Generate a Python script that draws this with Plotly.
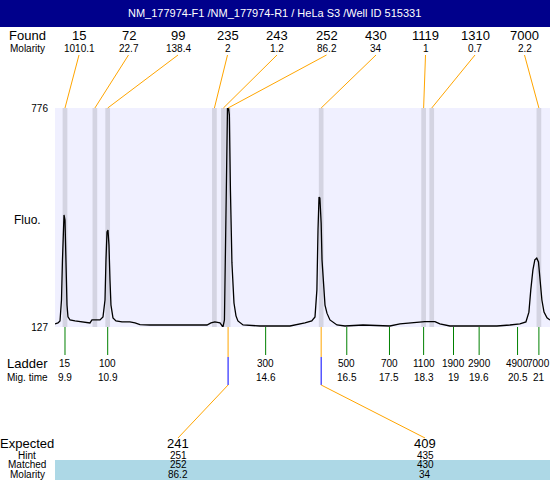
import plotly.graph_objects as go

title = "NM_177974-F1 /NM_177974-R1 / HeLa S3 /Well ID 515331"

# Electropherogram (migration time, fluorescence)
mig_time = [9.666, 9.736, 9.783, 9.818, 9.841, 9.865, 9.877, 9.9, 9.923, 9.947, 9.97, 10.017,
            10.134, 10.368, 10.485, 10.532, 10.72, 10.79, 10.837, 10.86, 10.884, 10.907, 10.93,
            10.954, 10.977, 11.024, 11.094, 11.235, 11.42, 11.54, 11.656, 11.89, 12.59, 13.226,
            13.32, 13.41, 13.53, 13.577, 13.60, 13.635, 13.66, 13.682, 13.706, 13.73, 13.75,
            13.775, 13.81, 13.858, 13.905, 13.95, 14.07, 14.467, 15.17, 15.52, 15.68, 15.756,
            15.80, 15.826, 15.85, 15.87, 15.90, 15.92, 15.955, 15.99, 16.036, 16.106, 16.27,
            16.458, 16.88, 17.277, 17.51, 17.746, 18.05, 18.213, 18.33, 18.565, 18.68, 18.916,
            20.017, 20.32, 20.556, 20.696, 20.766, 20.81, 20.86, 20.905, 20.95, 20.99, 21.02,
            21.07, 21.12, 21.19, 21.26]
fluo = [136, 139, 145, 207, 326, 438, 459, 444, 296, 192, 157, 148,
        145, 142, 139, 148, 148, 157, 207, 326, 409, 414, 370,
        266, 192, 154, 145, 142, 142, 139, 134, 133, 133, 133,
        139, 142, 139, 128, 127, 148, 355, 652, 776, 776, 755,
        533, 317, 198, 160, 145, 133, 130, 130, 139, 145, 157,
        237, 414, 512, 509, 435, 326, 237, 192, 168, 148, 133,
        130, 133, 130, 130, 136, 139, 142, 143, 143, 136, 130,
        130, 133, 136, 142, 171, 237, 296, 326, 331, 320, 275,
        207, 171, 154, 148]

found_size = ["15", "72", "99", "235", "243", "252", "430", "1119", "1310", "7000"]
found_molarity = ["1010.1", "22.7", "138.4", "2", "1.2", "86.2", "34", "1", "0.7", "2.2"]
found_time = [9.9, 10.6, 10.9, 13.4, 13.61, 13.72, 15.9, 18.3, 18.49, 21.0]

ladder_size = ["15", "100", "300", "500", "700", "1100", "1900", "2900", "4900", "7000"]
ladder_time = [9.9, 10.9, 14.6, 16.5, 17.5, 18.3, 19, 19.6, 20.5, 21]

expected = ["241", "409"]
hint = ["251", "435"]
matched = ["252", "430"]
matched_molarity = ["86.2", "34"]

XMIN, XMAX = 9.666, 21.26
YMIN, YMAX = 127, 776
L, T, PW, PH = 55, 108, 495, 219

def data_x(px):
    return XMIN + (px - L) / PW * (XMAX - XMIN)

def pap_x(px):
    return (px - L) / PW

def pap_y(py):
    return (T + PH - py) / PH

FONT = "Arial, Liberation Sans, sans-serif"
ORANGE = "#FFA500"
GREEN = "#008000"
BLUE = "#0000FF"
BAND = "#D4D4E2"

def label(text, x, y, size, xref="paper", color="black"):
    return dict(text=text, xref=xref, yref="paper", x=x, y=y, xanchor="center",
                yanchor="middle", showarrow=False,
                font=dict(size=size, family=FONT, color=color))

fig = go.Figure()
fig.add_trace(go.Scatter(x=mig_time, y=fluo, mode="lines",
                         line=dict(color="black", width=1.3), hoverinfo="skip",
                         showlegend=False))

shapes = []
ann = []

# title bar
shapes.append(dict(type="rect", xref="paper", yref="paper", x0=pap_x(0), x1=1,
                   y0=pap_y(27), y1=pap_y(0), fillcolor="#00008B", line_width=0, layer="above"))
ann.append(label(title, pap_x(274), pap_y(13), 11, color="white"))

# found peaks: bands + leader lines + labels
for i, (s, m, t) in enumerate(zip(found_size, found_molarity, found_time)):
    shapes.append(dict(type="rect", xref="x", yref="paper", x0=t - 0.055, x1=t + 0.055,
                       y0=0, y1=1, fillcolor=BAND, line_width=0, layer="below"))
    lx = 79 + 49.5 * i
    shapes.append(dict(type="line", xref="x", yref="paper", x0=data_x(lx), x1=t,
                       y0=pap_y(55), y1=1, line=dict(color=ORANGE, width=1), layer="above"))
    ann.append(label(s, pap_x(lx), pap_y(35), 13))
    ann.append(label(m, pap_x(lx), pap_y(48), 10))

ann.append(label("Found", pap_x(27), pap_y(35), 13))
ann.append(label("Molarity", pap_x(27), pap_y(48), 10))
ann.append(label("Fluo.", pap_x(27), pap_y(220), 12))

# ladder
for s, t in zip(ladder_size, ladder_time):
    shapes.append(dict(type="line", xref="x", yref="paper", x0=t, x1=t,
                       y0=0, y1=pap_y(355), line=dict(color=GREEN, width=1), layer="above"))
    ann.append(label(s, t, pap_y(363), 10, xref="x"))
    ann.append(label(f"{t:g}", t, pap_y(377), 10, xref="x"))
ann.append(label("Ladder", pap_x(27), pap_y(363), 13))
ann.append(label("Mig. time", pap_x(27), pap_y(377), 10))

# expected table
shapes.append(dict(type="rect", xref="paper", yref="paper", x0=0, x1=1,
                   y0=pap_y(480), y1=pap_y(460), fillcolor="#ADD8E6", line_width=0, layer="below"))
exp_px = [178, 425]
for e, h, mt, mm, lx in zip(expected, hint, matched, matched_molarity, exp_px):
    t = found_time[found_size.index(mt)]
    shapes.append(dict(type="line", xref="x", yref="paper", x0=t, x1=t, y0=0, y1=pap_y(357),
                       line=dict(color=ORANGE, width=1), layer="above"))
    shapes.append(dict(type="line", xref="x", yref="paper", x0=t, x1=t, y0=pap_y(357), y1=pap_y(385),
                       line=dict(color=BLUE, width=1), layer="above"))
    shapes.append(dict(type="line", xref="x", yref="paper", x0=t, x1=data_x(lx), y0=pap_y(385),
                       y1=pap_y(438), line=dict(color=ORANGE, width=1), layer="above"))
    for txt, yy, sz in [(e, 443, 13), (h, 455, 10), (mt, 465, 10), (mm, 474, 10)]:
        ann.append(label(txt, data_x(lx), pap_y(yy), sz, xref="x"))
for txt, yy, sz in [("Expected", 443, 13), ("Hint", 455, 10), ("Matched", 465, 10), ("Molarity", 474, 10)]:
    ann.append(label(txt, pap_x(27), pap_y(yy), sz))

fig.update_layout(
    width=550, height=480,
    margin=dict(l=L, r=0, t=T, b=480 - T - PH, pad=0),
    paper_bgcolor="white", plot_bgcolor="#F0F0FF",
    showlegend=False,
    shapes=shapes, annotations=ann,
    xaxis=dict(range=[XMIN, XMAX], showgrid=False, zeroline=False, showticklabels=False,
               ticks="", showline=False, fixedrange=True),
    yaxis=dict(range=[YMIN, YMAX], showgrid=False, zeroline=False, tickvals=[YMIN, YMAX],
               ticktext=[str(YMIN), str(YMAX)], ticks="outside", ticklen=4,
               tickcolor="rgba(0,0,0,0)", tickfont=dict(size=10, family=FONT, color="black"),
               showline=False, fixedrange=True),
)

fig.write_html("out.html", config={"displayModeBar": False},
               post_script="document.body.style.margin='0';document.body.style.overflow='hidden';")
